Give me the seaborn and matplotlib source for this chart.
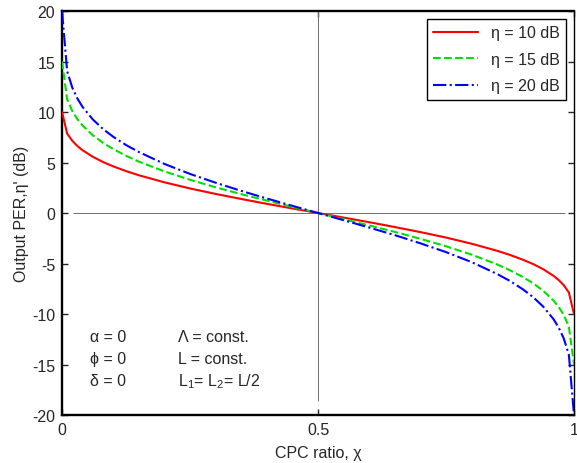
"""Output PER vs CPC ratio for three input PER values."""
import matplotlib
matplotlib.use("Agg")
import matplotlib.pyplot as plt
import numpy as np
import pandas as pd
import seaborn as sns

# values
chi = [0.0, 0.01, 0.02, 0.03, 0.04, 0.06, 0.08, 0.10, 0.125, 0.15, 0.20,
       0.25, 0.30, 0.35, 0.40, 0.45, 0.50, 0.55, 0.60, 0.65, 0.70, 0.75,
       0.80, 0.85, 0.875, 0.90, 0.92, 0.94, 0.96, 0.97, 0.98, 0.99, 1.0]
per_10 = [10.0, 7.87, 7.15, 6.63, 6.22, 5.57, 5.05, 4.62, 4.15, 3.74, 3.04,
          2.43, 1.89, 1.39, 0.91, 0.45, 0.0, -0.45, -0.91, -1.39, -1.89, -2.43,
          -3.04, -3.74, -4.15, -4.62, -5.05, -5.57, -6.22, -6.63, -7.15, -7.87, -10.0]
per_15 = [15.0, 11.26, 10.10, 9.29, 8.67, 7.70, 6.95, 6.33, 5.67, 5.09, 4.12,
          3.29, 2.55, 1.87, 1.23, 0.61, 0.0, -0.61, -1.23, -1.87, -2.55, -3.29,
          -4.12, -5.09, -5.67, -6.33, -6.95, -7.70, -8.67, -9.29, -10.10, -11.26, -15.0]
per_20 = [20.0, 14.04, 12.42, 11.34, 10.51, 9.27, 8.32, 7.55, 6.73, 6.04, 4.86,
          3.87, 3.00, 2.19, 1.44, 0.71, 0.0, -0.71, -1.44, -2.19, -3.00, -3.87,
          -4.86, -6.04, -6.73, -7.55, -8.32, -9.27, -10.51, -11.34, -12.42, -14.04, -20.0]
labels = ["\u03b7 = 10 dB", "\u03b7 = 15 dB", "\u03b7 = 20 dB"]
colors = ["#ff0000", "#00e000", "#0000ff"]
styles = ["-", "--", "-."]

sns.set_style("ticks")
plt.rcParams["font.family"] = ["Liberation Sans", "DejaVu Sans"]
plt.rcParams["axes.unicode_minus"] = False
plt.rcParams["mathtext.fontset"] = "custom"
plt.rcParams["mathtext.rm"] = "Liberation Sans"
plt.rcParams["mathtext.it"] = "Liberation Sans"

fig = plt.figure(figsize=(5.77, 4.64), dpi=100)
ax = fig.add_axes([0.1075, 0.1034, 0.8873, 0.8707])

# thin reference lines through the centre
ax.hlines(0, 0.021, 0.982, color="#707070", lw=0.7, zorder=1)
ax.vlines(0.5, -18.6, 20, color="#707070", lw=0.7, zorder=1)

for vals, lab, col, ls in zip([per_10, per_15, per_20], labels, colors, styles):
    df = pd.DataFrame({"chi": chi, "per": vals})
    sns.lineplot(data=df, x="chi", y="per", color=col, linestyle=ls, lw=1.5,
                 label=lab, ax=ax, sort=False, zorder=3)

ax.set_xlim(0, 1)
ax.set_ylim(-20, 20)
ax.set_xticks([0, 0.5, 1])
ax.set_xticklabels(["0", "0.5", "1"])
ax.set_yticks(np.arange(-20, 21, 5))
ax.tick_params(direction="in", length=4, width=1, labelsize=11.5,
               top=True, right=True, pad=5)
for side in ["left", "bottom", "top"]:
    ax.spines[side].set_linewidth(1.7)
ax.spines["right"].set_linewidth(1.0)
for sp in ax.spines.values():
    sp.set_color("black")

ax.set_xlabel("CPC ratio, \u03c7", fontsize=11.5, labelpad=6)
ax.set_ylabel("Output PER,\u03b7' (dB)", fontsize=11.5, labelpad=2)

leg = ax.legend(loc="upper right", fontsize=11.5, frameon=True, fancybox=False,
                framealpha=1, edgecolor="black", handlelength=2.8,
                labelspacing=0.72, borderaxespad=0.5)
leg.get_frame().set_linewidth(1.0)

txt = dict(fontsize=11.5, va="center", ha="left")
ax.text(0.055, -12.2, "\u03b1 = 0", **txt)
ax.text(0.055, -14.4, "\u03d5 = 0", **txt)
ax.text(0.055, -16.6, "\u03b4 = 0", **txt)
ax.text(0.227, -12.2, "\u039b = const.", **txt)
ax.text(0.227, -14.4, "L = const.", **txt)
ax.text(0.227, -16.6, "L$_1$= L$_2$= L/2", **txt)

fig.savefig("out.png", dpi=100)
